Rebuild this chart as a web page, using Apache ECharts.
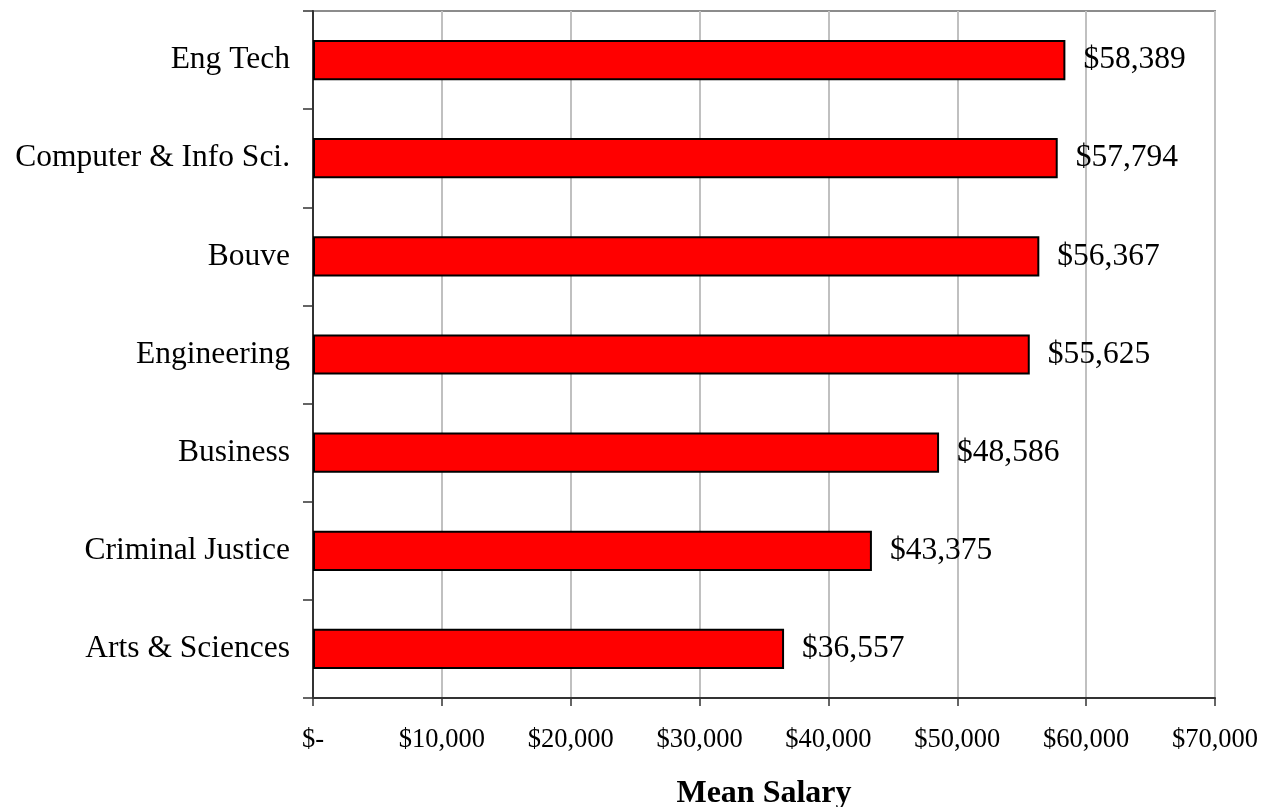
<!DOCTYPE html>
<html>
<head>
<meta charset="utf-8">
<script src="https://cdn.jsdelivr.net/npm/echarts@6/dist/echarts.min.js"></script>
<style>
  html, body { margin: 0; padding: 0; background: #fff; }
  #chart { width: 1268px; height: 807px; }
</style>
</head>
<body>
<div id="chart"></div>
<script>
// categories, top to bottom
const categories = ["Eng Tech", "Computer & Info Sci.", "Bouve", "Engineering", "Business", "Criminal Justice", "Arts & Sciences"]
const meanSalary = [58389, 57794, 56367, 55625, 48586, 43375, 36557]
const xTicks = [0, 10000, 20000, 30000, 40000, 50000, 60000, 70000]

const FONT = "'Liberation Serif', 'Times New Roman', serif"

const money = (v) => v === 0 ? "$-" : "$" + v.toLocaleString("en-US")

const chart = echarts.init(document.getElementById("chart"))

chart.setOption({
  animation: false,
  grid: {
    left: 313,
    right: 53,
    top: 11,
    bottom: 109,
    containLabel: false,
    outerBoundsMode: "none",
    show: true,
    borderColor: "#8c8c8c",
    borderWidth: 2,
  },
  xAxis: {
    type: "value",
    min: xTicks[0],
    max: xTicks[xTicks.length - 1],
    interval: 10000,
    name: "Mean Salary",
    nameLocation: "middle",
    nameGap: 80,
    nameTextStyle: { fontFamily: FONT, fontSize: 32, fontWeight: "bold", color: "#000" },
    axisLine: { show: true, lineStyle: { color: "#333", width: 2 } },
    axisTick: { show: true, length: 8, lineStyle: { color: "#333", width: 1.5 } },
    axisLabel: { formatter: money, fontFamily: FONT, fontSize: 26.5, color: "#000", margin: 29 },
    splitLine: { show: true, lineStyle: { color: "#c0c0c0", width: 2 } },
  },
  yAxis: {
    type: "category",
    data: categories,
    inverse: true,
    axisLine: { show: true, lineStyle: { color: "#333", width: 2 } },
    axisTick: { show: true, length: 10, alignWithLabel: false, lineStyle: { color: "#333", width: 1.5 } },
    axisLabel: { fontFamily: FONT, fontSize: 31.5, color: "#000", margin: 23 },
    splitLine: { show: false },
  },
  series: [
    {
      name: "Mean Salary",
      type: "bar",
      data: meanSalary,
      barWidth: "41%",
      itemStyle: { color: "#ff0000", borderColor: "#000", borderWidth: 2 },
      label: {
        show: true,
        position: "right",
        distance: 18,
        formatter: (p) => money(p.value),
        fontFamily: FONT,
        fontSize: 31.5,
        color: "#000",
      },
    },
  ],
})
</script>
</body>
</html>
